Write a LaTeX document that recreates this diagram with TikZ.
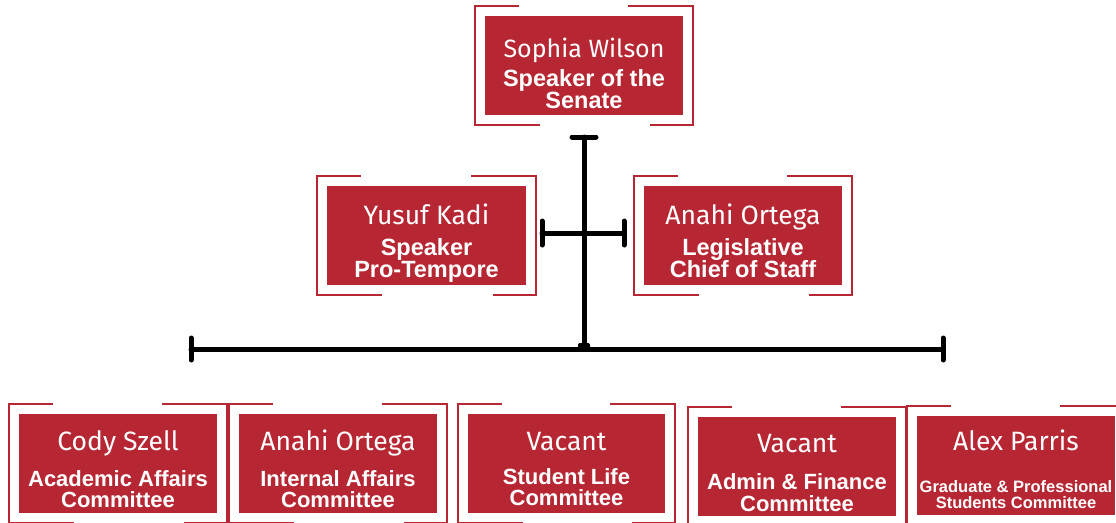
\documentclass[tikz,border=0pt]{standalone}
\usepackage{fontspec}
\setmainfont{Liberation Sans}
\newfontfamily\namefont{Fira Sans}
\usetikzlibrary{calc}
\definecolor{boxred}{RGB}{183,39,51}
\tikzset{
  redbox/.style={fill=boxred, draw=none, minimum width=198pt, minimum height=99pt, inner sep=0pt, outer sep=0pt},
  bframe/.style={draw=boxred, line width=2pt},
  conn/.style={draw=black, line width=5pt, line cap=round},
  nametext/.style={text=white, font=\namefont\fontsize{26.5}{26.5}\selectfont, anchor=base, inner sep=0pt},
  titletext/.style={text=white, font=\bfseries\fontsize{23.5}{23.5}\selectfont, anchor=base, inner sep=0pt},
  smalltitle/.style={titletext, font=\bfseries\fontsize{22}{22}\selectfont},
  tinytitle/.style={titletext, font=\bfseries\fontsize{16.5}{16.5}\selectfont},
}
\newcommand\bracketsof[1]{%
  \draw[bframe] ($(#1.north west)+(34,-10)$) -- ($(#1.north west)+(-10,-10)$) -- ($(#1.south west)+(-10,10)$) -- ($(#1.south west)+(55,10)$);
  \draw[bframe] ($(#1.north east)+(-55,-10)$) -- ($(#1.north east)+(10,-10)$) -- ($(#1.south east)+(10,10)$) -- ($(#1.south east)+(-33,10)$);
}
\begin{document}
\begin{tikzpicture}[x=1pt,y=-1pt]
\fill[white] (0,0) rectangle (1116,522);
\useasboundingbox (0,0) rectangle (1116,522);
% boxes
\node[redbox] (sophia) at (584,65.5) {};
\node[redbox, minimum width=199pt] (yusuf) at (426.5,235.5) {};
\node[redbox] (anahiL) at (743,235.5) {};
\node[redbox] (cody) at (118,463.5) {};
\node[redbox] (anahiI) at (338,463.5) {};
\node[redbox, minimum width=197pt] (vacA) at (566.5,463.5) {};
\node[redbox] (vacB) at (797,466.5) {};
\node[redbox] (alex) at (1016,465.5) {};
% frames
\bracketsof{sophia}
\bracketsof{yusuf}
\bracketsof{anahiL}
\bracketsof{cody}
\bracketsof{anahiI}
\bracketsof{vacA}
\bracketsof{vacB}
\bracketsof{alex}
% texts
\node[nametext, font=\namefont\fontsize{25}{25}\selectfont] (sophiaN) at (584,57) {Sophia Wilson};
\node[titletext] (sophiaT1) at (584,86.5) {Speaker of the};
\node[titletext] (sophiaT2) at (584,108.5) {Senate};
\node[nametext] (yusufN) at (426.5,224) {Yusuf Kadi};
\node[titletext] (yusufT1) at (426.5,255.5) {Speaker};
\node[titletext] (yusufT2) at (426.5,277.5) {Pro-Tempore};
\node[nametext] (anahiLN) at (743,224) {Anahi Ortega};
\node[titletext] (anahiLT1) at (743,255) {Legislative};
\node[titletext] (anahiLT2) at (743,277) {Chief of Staff};
\node[nametext] (codyN) at (118,450) {Cody Szell};
\node[smalltitle] (codyT1) at (118,486) {Academic Affairs};
\node[smalltitle] (codyT2) at (118,507) {Committee};
\node[nametext] (anahiIN) at (338,450) {Anahi Ortega};
\node[smalltitle] (anahiIT1) at (338,486) {Internal Affairs};
\node[smalltitle] (anahiIT2) at (338,507) {Committee};
\node[nametext] (vacAN) at (566.5,450) {Vacant};
\node[smalltitle] (vacAT1) at (566.5,484) {Student Life};
\node[smalltitle] (vacAT2) at (566.5,505) {Committee};
\node[nametext] (vacBN) at (797,452) {Vacant};
\node[smalltitle] (vacBT1) at (797,489) {Admin \& Finance};
\node[smalltitle] (vacBT2) at (797,511) {Committee};
\node[nametext] (alexN) at (1016,450) {Alex Parris};
\node[tinytitle] (alexT1) at (1016,492) {Graduate \& Professional};
\node[tinytitle] (alexT2) at (1016,508) {Students Committee};
% connectors
\coordinate (vtop) at (584,137);
\coordinate (vbot) at (584,349);
\coordinate (mL) at (542,233);
\coordinate (mR) at (624,233);
\coordinate (bL) at (191,349);
\coordinate (bR) at (943,349);
\draw[conn] (vtop) -- (vbot);
\draw[conn] ($(vtop)+(-12,0)$) -- ($(vtop)+(12,0)$);
\draw[conn] (mL) -- (mR);
\draw[conn] ($(mL)+(0,-12)$) -- ($(mL)+(0,12)$);
\draw[conn] ($(mR)+(0,-12)$) -- ($(mR)+(0,12)$);
\draw[conn] (bL) -- (bR);
\draw[conn] ($(bL)+(0,-11)$) -- ($(bL)+(0,11)$);
\draw[conn] ($(bR)+(0,-11)$) -- ($(bR)+(0,11)$);
\fill[black, rounded corners=2pt] (578,343) rectangle (590,350);
\end{tikzpicture}
\end{document}
